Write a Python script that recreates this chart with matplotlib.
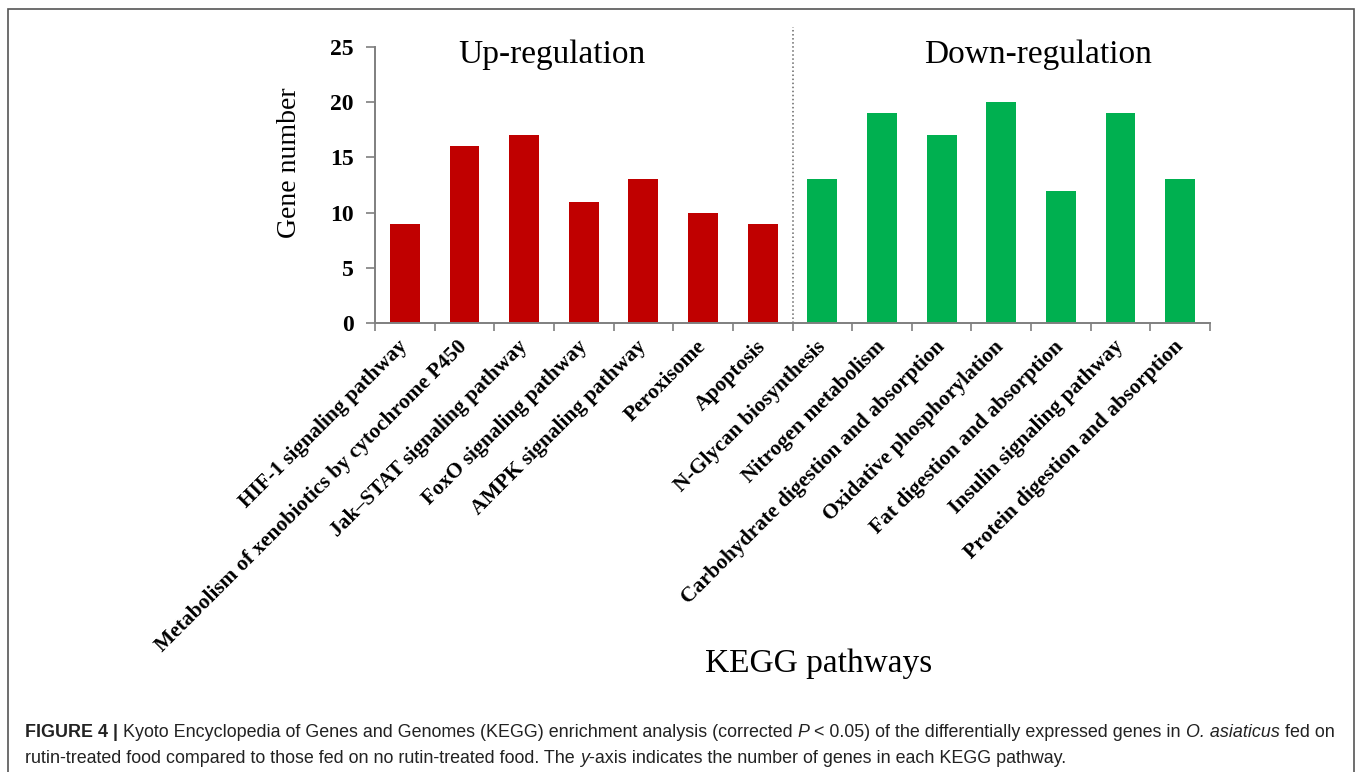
import matplotlib
matplotlib.use("Agg")
import matplotlib.pyplot as plt
from matplotlib.patches import Rectangle
import numpy as np

# =====================================================
# Datos
# =====================================================
vias_up = [
    "HIF-1 signaling pathway",
    "Metabolism of xenobiotics by cytochrome P450",
    "Jak\u2013STAT signaling pathway",
    "FoxO signaling pathway",
    "AMPK signaling pathway",
    "Peroxisome",
    "Apoptosis",
]
genes_up = [9, 16, 17, 11, 13, 10, 9]

vias_down = [
    "N-Glycan biosynthesis",
    "Nitrogen metabolism",
    "Carbohydrate digestion and absorption",
    "Oxidative phosphorylation",
    "Fat digestion and absorption",
    "Insulin signaling pathway",
    "Protein digestion and absorption",
]
genes_down = [13, 19, 17, 20, 12, 19, 13]

y_ticks = [0, 5, 10, 15, 20, 25]

# =====================================================
# Estilo general
# =====================================================
W, H = 1358, 772
SERIF = ["Liberation Serif", "DejaVu Serif"]
SANS = ["Liberation Sans", "DejaVu Sans"]
GRIS = "#7f7f7f"
ROJO = "#C00000"
VERDE = "#00B050"


def px(x, y):
    # pixeles de la imagen -> coordenadas de figura
    return x / W, 1 - y / H


fig = plt.figure(figsize=(W / 100, H / 100), dpi=100)
fig.patch.set_facecolor("white")

ax = fig.add_axes([375 / W, 1 - 323 / H, (1210 - 375) / W, (323 - 47) / H])

n_up = len(genes_up)
x_up = np.arange(n_up)
x_down = np.arange(len(genes_down)) + n_up
ax.bar(x_up, genes_up, width=0.5, color=ROJO, zorder=2)
ax.bar(x_down, genes_down, width=0.5, color=VERDE, zorder=2)

n_total = n_up + len(genes_down)
ax.set_xlim(-0.5, n_total - 0.5)
ax.set_ylim(0, 25)

# eje y
ax.set_yticks(y_ticks)
ax.set_yticklabels([str(v) for v in y_ticks], family=SERIF, fontweight="bold", fontsize=17)
ax.tick_params(axis="y", length=6.5, width=1.2, color=GRIS, pad=9)

# eje x: etiquetas en el centro, marcas en los limites
ax.set_xticks(np.arange(n_total))
ax.set_xticklabels(vias_up + vias_down, rotation=45, ha="right", va="center",
                   rotation_mode="anchor", family=SERIF, fontweight="bold", fontsize=15.5)
ax.tick_params(axis="x", which="major", length=0, pad=15)
ax.set_xticks(np.arange(n_total + 1) - 0.5, minor=True)
ax.tick_params(axis="x", which="minor", length=6, width=1.2, color=GRIS)

for lado in ["top", "right"]:
    ax.spines[lado].set_visible(False)
for lado in ["left", "bottom"]:
    ax.spines[lado].set_color(GRIS)
    ax.spines[lado].set_linewidth(1.4)

# linea punteada separando grupos
ax.plot([n_up - 0.5, n_up - 0.5], [0, 26.8], ls=":", color="#666666", lw=1.1, clip_on=False, zorder=1)

ax.text(2.47, 23.55, "Up-regulation", ha="center", va="baseline", family=SERIF, fontsize=24)
ax.text(10.62, 23.55, "Down-regulation", ha="center", va="baseline", family=SERIF, fontsize=24)

fig.text(*px(818.5, 672), "KEGG pathways", ha="center", va="baseline", family=SERIF, fontsize=24)
fig.text(*px(290, 162.5), "Gene number", ha="center", va="center", rotation=90,
         family=SERIF, fontsize=20)

# =====================================================
# Marco y leyenda de la figura
# =====================================================
fig.add_artist(Rectangle(px(8, 790), (1354 - 8) / W, (790 - 9) / H, transform=fig.transFigure,
                         fill=False, ec="#555555", lw=1.2, clip_on=False))

renderer = fig.canvas.get_renderer()


def ancho_espacio(size):
    t1 = fig.text(0, 0, "a a", family=SANS, fontsize=size)
    t2 = fig.text(0, 0, "aa", family=SANS, fontsize=size)
    w = t1.get_window_extent(renderer).width - t2.get_window_extent(renderer).width
    t1.remove()
    t2.remove()
    return w


def dibujar_linea(partes, x0, y0, size):
    # partes: (texto, peso, estilo, espacio_despues)
    esp = ancho_espacio(size)
    x = x0
    objs = []
    for texto, peso, estilo, espacio in partes:
        t = fig.text(*px(x, y0), texto, family=SANS, fontsize=size, fontweight=peso,
                     fontstyle=estilo, ha="left", va="baseline", color="#222222")
        x += t.get_window_extent(renderer).width
        if espacio:
            x += esp
        objs.append(t)
    return objs, x - x0


linea1 = [
    ("FIGURE 4 |", "bold", "normal", True),
    ("Kyoto Encyclopedia of Genes and Genomes (KEGG) enrichment analysis (corrected", "normal", "normal", True),
    ("P", "normal", "italic", True),
    ("< 0.05) of the differentially expressed genes in", "normal", "normal", True),
    ("O. asiaticus", "normal", "italic", True),
    ("fed on", "normal", "normal", False),
]
linea2 = [
    ("rutin-treated food compared to those fed on no rutin-treated food. The", "normal", "normal", True),
    ("y", "normal", "italic", False),
    ("-axis indicates the number of genes in each KEGG pathway.", "normal", "normal", False),
]

# ajustar el tamano para que la primera linea ocupe el mismo ancho
base = 12.0
objs, ancho = dibujar_linea(linea1, 25, 738, base)
for o in objs:
    o.remove()
size = base * (1338 - 25) / ancho
dibujar_linea(linea1, 25, 737, size)
dibujar_linea(linea2, 25, 763, size)

fig.savefig("out.png", dpi=100, facecolor="white")
